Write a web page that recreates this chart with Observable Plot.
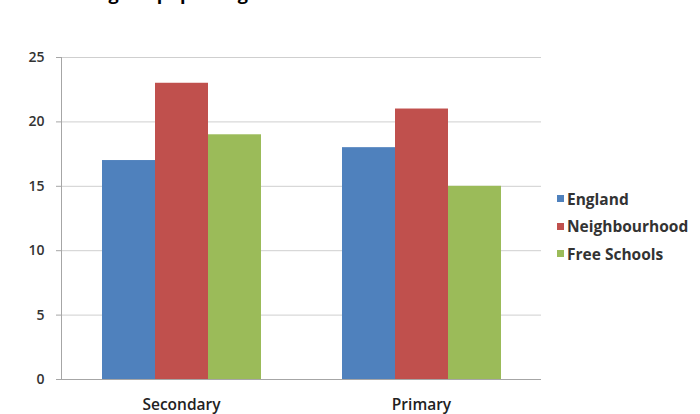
<!DOCTYPE html>
<html><head><meta charset="utf-8">
<script src="https://cdn.jsdelivr.net/npm/d3@7"></script>
<script src="https://cdn.jsdelivr.net/npm/@observablehq/plot@0.6"></script>
<style>
body{margin:0;background:#fff;}
#wrap{position:relative;width:700px;height:414px;overflow:hidden;background:#fff;}
#title{position:absolute;left:28px;top:-16px;font-family:"Open Sans",sans-serif;font-weight:bold;font-size:18px;line-height:1;color:#000;white-space:nowrap;}
#chart{position:absolute;left:0;top:0;}
#legend{position:absolute;left:557px;top:185px;font-family:"Open Sans",sans-serif;font-weight:bold;font-size:15.5px;color:#333;}
.item{display:flex;align-items:center;height:27.5px;}
.sw{width:7px;height:7px;margin-right:3px;}
</style></head><body>
<div id="wrap"><div id="title">Percentage of pupils eligible for free school meals</div><div id="chart"></div><div id="legend"></div></div>
<script>
const categories = ["Secondary", "Primary"];
const seriesNames = ["England", "Neighbourhood", "Free Schools"];
const seriesColors = ["#4f81bd", "#c0504d", "#9bbb59"];
const england = [17, 18];
const neighbourhood = [23, 21];
const freeSchools = [19, 15];
const yTicks = [0, 5, 10, 15, 20, 25];

const seriesValues = [england, neighbourhood, freeSchools];
const data = categories.flatMap((c, i) => seriesNames.map((s, j) => ({category: c, series: s, value: seriesValues[j][i]})));

const chart = Plot.plot({
  width: 700, height: 414,
  marginLeft: 60, marginRight: 159, marginTop: 57, marginBottom: 35,
  style: {fontFamily: "'Open Sans', sans-serif", fontSize: "14px", fontWeight: "600", color: "#333", background: "transparent"},
  fx: {domain: categories, padding: 0, label: null, axis: null},
  x: {domain: seriesNames, paddingInner: 0, paddingOuter: 0.75, axis: null},
  y: {domain: [0, 25], axis: null},
  color: {domain: seriesNames, range: seriesColors},
  marks: [
    Plot.gridY(yTicks, {stroke: "#cfcfcf", strokeOpacity: 1}),
    Plot.barY(data, {fx: "category", x: "series", y: "value", fill: "series"}),
    Plot.axisY(yTicks, {tickSize: 5, tickPadding: 12, stroke: "#a6a6a6", label: null, fill: "#333"}),
    Plot.axisFx({anchor: "bottom", tickSize: 0, tickPadding: 19, label: null, fill: "#222", fontSize: 15.5}),
    Plot.ruleY([0], {stroke: "#a6a6a6"}),
    Plot.frame({anchor: "left", facetAnchor: "left", stroke: "#a6a6a6"})
  ]
});
document.getElementById("chart").appendChild(chart);

const legend = document.getElementById("legend");
seriesNames.forEach((s, i) => {
  const row = document.createElement("div");
  row.className = "item";
  const sw = document.createElement("span");
  sw.className = "sw";
  sw.style.background = seriesColors[i];
  const t = document.createElement("span");
  t.textContent = s;
  row.appendChild(sw); row.appendChild(t);
  legend.appendChild(row);
});
</script>
</body></html>
